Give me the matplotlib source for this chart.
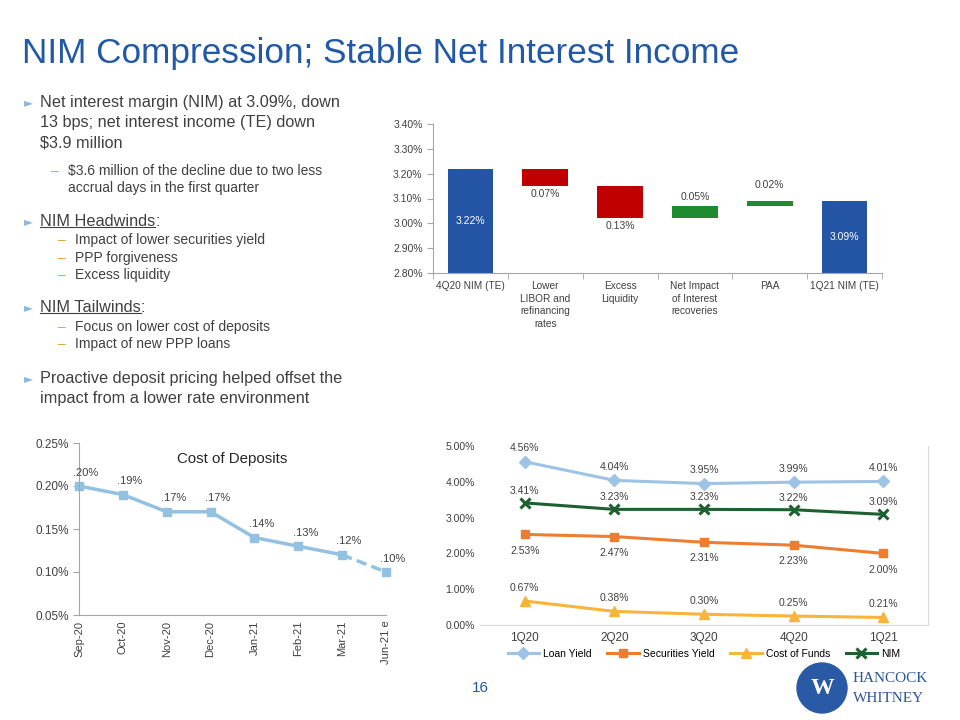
"""
Slide 16: NIM Compression; Stable Net Interest Income.
Waterfall af NIM-bevægelse, cost of deposits og yield-udvikling.
"""
import matplotlib.pyplot as plt
import matplotlib.patches as mpatches
from matplotlib.lines import Line2D
from matplotlib.ticker import FuncFormatter, MultipleLocator
import numpy as np

plt.rcParams["font.family"] = ["Liberation Sans", "DejaVu Sans"]

# =============================================================================
# Data
# =============================================================================

WF_CATEGORIES = ["4Q20 NIM (TE)", "Lower\nLIBOR and\nrefinancing\nrates", "Excess\nLiquidity",
                 "Net Impact\nof Interest\nrecoveries", "PAA", "1Q21 NIM (TE)"]
NIM_START = 3.22
NIM_CHANGES = [-0.07, -0.13, 0.05, 0.02]
NIM_END = 3.09

COD_MONTHS = ["Sep-20", "Oct-20", "Nov-20", "Dec-20", "Jan-21", "Feb-21", "Mar-21", "Jun-21 e"]
COD_VALUES = [0.20, 0.19, 0.17, 0.17, 0.14, 0.13, 0.12, 0.10]

QUARTERS = ["1Q20", "2Q20", "3Q20", "4Q20", "1Q21"]
LOAN_YIELD = [4.56, 4.04, 3.95, 3.99, 4.01]
SEC_YIELD = [2.53, 2.47, 2.31, 2.23, 2.00]
COST_FUNDS = [0.67, 0.38, 0.30, 0.25, 0.21]
NIM = [3.41, 3.23, 3.23, 3.22, 3.09]

# =============================================================================
# Farver
# =============================================================================

TITLE_BLUE = "#2158A8"
BAR_BLUE = "#2455A4"
RED = "#C00000"
GREEN = "#1E8B2E"
TEXT = "#404040"
AXIS = "#A6A6A6"
BULLET = "#8DB8DC"
DASH = "#E3A33A"
C_LOAN = "#9DC3E6"
C_SEC = "#ED7D31"
C_COF = "#F9B43A"
C_NIM = "#1E6130"
C_COD = "#92C1E2"

W, H = 960, 720
fig = plt.figure(figsize=(W / 100, H / 100), dpi=100)


def fx(x):
    return x / W


def fy(y):
    return 1 - y / H


def pct2(v, _):
    return f"{v:.2f}%"


# =============================================================================
# Titel og tekst
# =============================================================================

fig.text(fx(22), fy(53), "NIM Compression; Stable Net Interest Income",
         fontsize=25.3, color=TITLE_BLUE, va="center", ha="left")

MAIN_FS = 11.7
SUB_FS = 10


def bullet(y):
    fig.text(fx(24), fy(y), "\u25BA", fontsize=8.5, color=BULLET, va="center",
             family="DejaVu Sans")


def dash(x, y):
    fig.text(fx(x), fy(y), "\u2013", fontsize=SUB_FS, color=DASH, va="center")


def underlined(x, y, label, fs):
    t = fig.text(fx(x), fy(y), label, fontsize=fs, color=TEXT, va="center")
    r = fig.canvas.get_renderer()
    bb = t.get_window_extent(renderer=r)
    fig.text((bb.x1) / W, fy(y), ":", fontsize=fs, color=TEXT, va="center")
    yl = (bb.y0 + 3) / H
    fig.add_artist(Line2D([bb.x0 / W, bb.x1 / W], [yl, yl], color=TEXT,
                          linewidth=0.8, transform=fig.transFigure))


bullet(103)
for y, s in zip([103, 123, 143], ["Net interest margin (NIM) at 3.09%, down",
                                  "13 bps; net interest income (TE) down",
                                  "$3.9 million"]):
    fig.text(fx(40), fy(y), s, fontsize=MAIN_FS, color=TEXT, va="center")
dash(51, 171)
fig.text(fx(68), fy(171), "$3.6 million of the decline due to two less",
         fontsize=SUB_FS, color=TEXT, va="center")
fig.text(fx(68), fy(188), "accrual days in the first quarter",
         fontsize=SUB_FS, color=TEXT, va="center")

bullet(222)
underlined(40, 222, "NIM Headwinds", MAIN_FS)
for y, s in zip([240, 258, 275], ["Impact of lower securities yield",
                                  "PPP forgiveness", "Excess liquidity"]):
    dash(58, y)
    fig.text(fx(75), fy(y), s, fontsize=SUB_FS, color=TEXT, va="center")

bullet(308)
underlined(40, 308, "NIM Tailwinds", MAIN_FS)
for y, s in zip([327, 344], ["Focus on lower cost of deposits",
                             "Impact of new PPP loans"]):
    dash(58, y)
    fig.text(fx(75), fy(y), s, fontsize=SUB_FS, color=TEXT, va="center")

bullet(379)
fig.text(fx(40), fy(379), "Proactive deposit pricing helped offset the",
         fontsize=MAIN_FS, color=TEXT, va="center")
fig.text(fx(40), fy(398), "impact from a lower rate environment",
         fontsize=MAIN_FS, color=TEXT, va="center")

# =============================================================================
# Waterfall
# =============================================================================

ax1 = fig.add_axes([fx(433), fy(273), fx(882) - fx(433), fy(124) - fy(273)])
base = 2.80
levels = np.concatenate([[NIM_START], NIM_START + np.cumsum(NIM_CHANGES)])
n = len(WF_CATEGORIES)
xs = np.arange(n)
bw = 0.61

ax1.bar(0, NIM_START - base, bottom=base, width=bw, color=BAR_BLUE)
ax1.text(0, (NIM_START + base) / 2, f"{NIM_START:.2f}%", color="white",
         ha="center", va="center", fontsize=7.5)
for i, ch in enumerate(NIM_CHANGES):
    lo, hi = sorted([levels[i], levels[i + 1]])
    col = RED if ch < 0 else GREEN
    ax1.bar(i + 1, hi - lo, bottom=lo, width=bw, color=col)
    if ch < 0:
        ax1.annotate(f"{abs(ch):.2f}%", (i + 1, lo), xytext=(0, -2),
                     textcoords="offset points", ha="center", va="top",
                     fontsize=7.5, color=TEXT)
    else:
        ax1.annotate(f"{abs(ch):.2f}%", (i + 1, hi), xytext=(0, 3 + 5 * (i == 3)),
                     textcoords="offset points", ha="center", va="bottom",
                     fontsize=7.5, color=TEXT)
ax1.bar(n - 1, NIM_END - base, bottom=base, width=bw, color=BAR_BLUE)
ax1.text(n - 1, (NIM_END + base) / 2, f"{NIM_END:.2f}%", color="white",
         ha="center", va="center", fontsize=7.5)

ax1.set_xlim(-0.5, n - 0.5)
ax1.set_ylim(2.80, 3.40)
ax1.yaxis.set_major_locator(MultipleLocator(0.1))
ax1.yaxis.set_major_formatter(FuncFormatter(pct2))
ax1.set_xticks(xs)
ax1.set_xticklabels(WF_CATEGORIES, fontsize=7.3, color=TEXT, linespacing=1.3)
ax1.set_xticks(np.arange(-0.5, n, 1.0), minor=True)
ax1.tick_params(axis="x", which="major", length=0, pad=6)
ax1.tick_params(axis="x", which="minor", length=4, color=AXIS)
ax1.tick_params(axis="y", labelsize=7.5, labelcolor=TEXT, length=4, color=AXIS)
for s in ["top", "right"]:
    ax1.spines[s].set_visible(False)
for s in ["left", "bottom"]:
    ax1.spines[s].set_color(AXIS)

# =============================================================================
# Cost of Deposits
# =============================================================================

ax2 = fig.add_axes([fx(79), fy(615), fx(386) - fx(79), fy(443) - fy(615)])
cx = np.arange(len(COD_MONTHS))
ax2.plot(cx[:-1], COD_VALUES[:-1], color=C_COD, linewidth=2.5, marker="s",
         markersize=5.5, clip_on=False)
ax2.plot(cx[-2:], COD_VALUES[-2:], color=C_COD, linewidth=2.5, linestyle=(0, (3, 1.5)),
         clip_on=False)
ax2.plot(cx[-1:], COD_VALUES[-1:], color=C_COD, marker="s", markersize=5.5,
         linestyle="none", clip_on=False)
for x, v in zip(cx, COD_VALUES):
    ax2.annotate(f".{int(round(v * 100)):02d}%", (x, v), xytext=(5, 6),
                 textcoords="offset points", ha="center", va="bottom",
                 fontsize=8, color=TEXT)
ax2.set_xlim(0, len(COD_MONTHS) - 1)
ax2.set_ylim(0.05, 0.25)
ax2.yaxis.set_major_locator(MultipleLocator(0.05))
ax2.yaxis.set_major_formatter(FuncFormatter(pct2))
ax2.set_xticks(cx)
ax2.set_xticklabels(COD_MONTHS, rotation=90, fontsize=8, color=TEXT)
ax2.tick_params(axis="x", length=0, pad=4)
ax2.tick_params(axis="y", labelsize=8.5, labelcolor=TEXT, length=4, color=AXIS)
for s in ["top", "right"]:
    ax2.spines[s].set_visible(False)
for s in ["left", "bottom"]:
    ax2.spines[s].set_color(AXIS)
ax2.text(0.5, 0.95, "Cost of Deposits", transform=ax2.transAxes, ha="center",
         va="top", fontsize=10.8, color="#262626")

# =============================================================================
# Yields
# =============================================================================

ax3 = fig.add_axes([fx(480), fy(625), fx(928) - fx(480), fy(446) - fy(625)])
qx = np.arange(len(QUARTERS))
series = [
    ("Loan Yield", LOAN_YIELD, C_LOAN, "D", 6, 6, "bottom"),
    ("Securities Yield", SEC_YIELD, C_SEC, "s", 6, -8, "top"),
    ("Cost of Funds", COST_FUNDS, C_COF, "^", 7, 6, "bottom"),
    ("NIM", NIM, C_NIM, "x", 7, 5, "bottom"),
]
for name, vals, col, mk, ms, dy, va in series:
    ax3.plot(qx, vals, color=col, linewidth=2.2, marker=mk, markersize=ms,
             markeredgewidth=2.2 if mk == "x" else 1, label=name)
    for x, v in zip(qx, vals):
        ax3.annotate(f"{v:.2f}%", (x, v), xytext=(0, dy), textcoords="offset points",
                     ha="center", va=va, fontsize=7.5, color=TEXT)
ax3.set_xlim(-0.5, len(QUARTERS) - 0.5)
ax3.set_ylim(0, 5)
ax3.yaxis.set_major_locator(MultipleLocator(1))
ax3.yaxis.set_major_formatter(FuncFormatter(pct2))
ax3.set_xticks(qx)
ax3.set_xticklabels(QUARTERS, fontsize=8.5, color=TEXT)
ax3.tick_params(axis="x", length=0, pad=5)
ax3.tick_params(axis="y", labelsize=7.5, labelcolor=TEXT, length=0)
for s in ["top", "left"]:
    ax3.spines[s].set_visible(False)
ax3.spines["right"].set_color("#D9D9D9")
ax3.spines["bottom"].set_color("#D9D9D9")
ax3.legend(loc="upper center", bbox_to_anchor=(0.5, -0.08), ncol=4, frameon=False,
           fontsize=7.5, handlelength=3, columnspacing=1.5, handletextpad=0.4)

# =============================================================================
# Sidenummer og logo
# =============================================================================

fig.text(fx(480), fy(688), "16", fontsize=11, color=TITLE_BLUE, ha="center", va="center")
fig.add_artist(mpatches.Ellipse((fx(822), fy(688)), 50 / W, 50 / H, color="#2A5AA6",
                                transform=fig.transFigure))
fig.text(fx(822), fy(688), "W", fontsize=17, color="white", ha="center", va="center",
         family="Liberation Serif", fontweight="bold")
fig.text(fx(853), fy(679), "HANCOCK", fontsize=11, color="#2E5597", va="center",
         family="Liberation Serif")
fig.text(fx(853), fy(699), "WHITNEY", fontsize=11, color="#2E5597", va="center",
         family="Liberation Serif")

fig.savefig("out.png", dpi=100)
